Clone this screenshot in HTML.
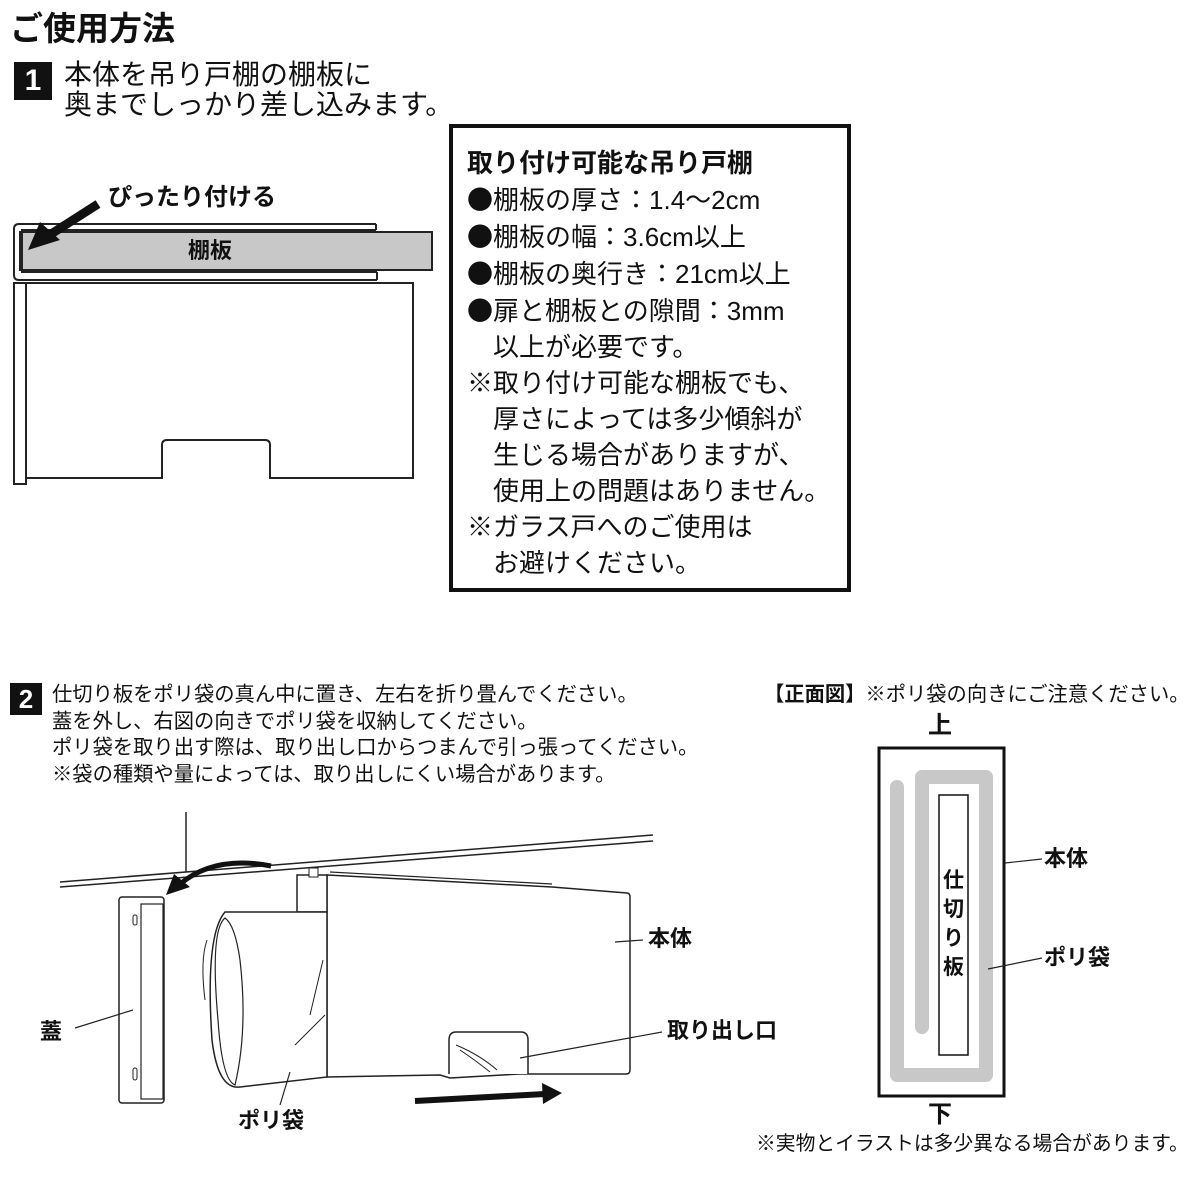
<!DOCTYPE html>
<html><head><meta charset="utf-8"><style>
html,body{margin:0;padding:0;background:#fff;}
body{width:1200px;height:1200px;position:relative;overflow:hidden;font-family:"Liberation Sans","Noto Sans CJK JP",sans-serif;color:#111;}
.t{position:absolute;white-space:nowrap;line-height:1;}
.b{font-weight:bold;}
.badge{position:absolute;background:#111;color:#fff;font-weight:bold;text-align:center;}
.dot{font-family:"Noto Sans CJK JP",sans-serif;}
</style></head><body>
<div class="t b" style="left:10px;top:12px;font-size:33px;">ご使用方法</div>
<div class="badge" style="left:14px;top:62px;width:38px;height:38px;font-size:30px;line-height:38px;">1</div>
<div class="t" style="left:64px;top:61px;font-size:28px;">本体を吊り戸棚の棚板に</div>
<div class="t" style="left:64px;top:91px;font-size:28px;">奥までしっかり差し込みます。</div>

<svg style="position:absolute;left:0;top:0" width="1200" height="1200">
 <rect x="20" y="232" width="412" height="38" fill="#c8c8c8" stroke="#222" stroke-width="2"/>
 <path d="M376,224 L19,224 Q14,224 14,229 L14,275 Q14,280 19,280 L377,280" fill="none" stroke="#222" stroke-width="2"/>
 <path d="M376,230 L22,230 L22,272 L377,272" fill="none" stroke="#222" stroke-width="2"/>
 <line x1="376" y1="224" x2="376" y2="230" stroke="#222" stroke-width="2"/>
 <line x1="377" y1="272" x2="377" y2="280" stroke="#222" stroke-width="2"/>
 <rect x="14" y="283" width="12" height="201" fill="#fff" stroke="#222" stroke-width="2"/>
 <path d="M26,283 L413,283 L413,478 L270,478 L270,445 Q270,440 265,440 L167,440 Q162,440 162,445 L162,478 L26,478" fill="none" stroke="#222" stroke-width="2"/>
 <line x1="98" y1="204" x2="48" y2="236" stroke="#111" stroke-width="9"/>
 <polygon points="28,250 40,222 60,240" fill="#111"/>
 <rect x="451" y="126" width="398" height="464" fill="none" stroke="#111" stroke-width="4"/>

 <line x1="186" y1="812" x2="186" y2="872" stroke="#222" stroke-width="1.5"/>
 <line x1="60" y1="882" x2="653" y2="835" stroke="#222" stroke-width="1.5"/>
 <line x1="60" y1="887" x2="653" y2="841" stroke="#222" stroke-width="1.5"/>
 <path d="M271,866 Q215,855 180,884" fill="none" stroke="#111" stroke-width="5"/>
 <polygon points="166,895 174,874 190,887" fill="#111"/>
 <rect x="119" y="897" width="45" height="206" rx="3" fill="#fff" stroke="#222" stroke-width="1.5"/>
 <rect x="141" y="904" width="22" height="195" fill="none" stroke="#222" stroke-width="1.2"/>
 <rect x="133" y="915" width="4" height="10" rx="2" fill="none" stroke="#222"/>
 <rect x="133" y="1068" width="4" height="12" rx="2" fill="none" stroke="#222"/>
 <line x1="75" y1="1028" x2="133" y2="1010" stroke="#222" stroke-width="1.2"/>
 <path d="M327,875 L552,887 L627,893 Q630,893 630,897 L630,1070 Q630,1074 626,1074 L520,1074 L450,1078 L440,1075 L327,1077 Z" fill="#fff" stroke="#222" stroke-width="1.5"/>
 <path d="M330,872 L552,884" stroke="#222" stroke-width="1.2"/>
 <rect x="297" y="875" width="30" height="37" fill="#fff" stroke="#222" stroke-width="1.5"/>
 <rect x="309" y="868" width="9" height="9" fill="#fff" stroke="#222" stroke-width="1"/>
 <path d="M327,912 L225,912 Q205,935 212,1040 Q218,1090 240,1087 L327,1077 Z" fill="#fff" stroke="#222" stroke-width="1.5"/>
 <path d="M225,918 Q210,930 218,1020 Q222,1080 235,1085 Q248,1030 240,960 Q235,925 225,918 Z" fill="none" stroke="#222" stroke-width="1.2"/>
 <path d="M207,940 Q200,960 205,1000" fill="none" stroke="#222" stroke-width="1"/>
 <path d="M323,960 L310,1015 M325,1015 L295,1045" fill="none" stroke="#222" stroke-width="1"/>
 <line x1="290" y1="1072" x2="280" y2="1105" stroke="#222" stroke-width="1.2"/>
 <path d="M449,1074 L449,1040 Q449,1032 456,1032 L521,1032 Q528,1032 528,1040 L528,1074" fill="#fff" stroke="#222" stroke-width="1.5"/>
 <path d="M456,1045 Q480,1055 497,1070 M460,1050 Q475,1060 490,1072" fill="none" stroke="#222" stroke-width="1"/>
 <line x1="520" y1="1058" x2="662" y2="1032" stroke="#222" stroke-width="1.2"/>
 <line x1="615" y1="942" x2="643" y2="940" stroke="#222" stroke-width="1.2"/>
 <line x1="415" y1="1101" x2="545" y2="1094" stroke="#111" stroke-width="6"/>
 <polygon points="562,1093 542,1083 543,1104" fill="#111"/>

 <rect x="879" y="748" width="125" height="348" fill="none" stroke="#111" stroke-width="3"/>
 <path d="M897,787 L897,1075 L986,1075 L986,777 L922,777 L922,1027" fill="none" stroke="#c8c8c8" stroke-width="14" stroke-linecap="round" stroke-linejoin="round"/>
 <rect x="939" y="795" width="29" height="260" fill="#fff" stroke="#111" stroke-width="1.5"/>
 <line x1="1005" y1="863" x2="1042" y2="859" stroke="#222" stroke-width="1.2"/>
 <line x1="988" y1="969" x2="1042" y2="958" stroke="#222" stroke-width="1.2"/>
</svg>

<div class="t b" style="left:108px;top:186px;font-size:24px;">ぴったり付ける</div>
<div class="t b" style="left:188px;top:240px;font-size:22px;">棚板</div>

<div style="position:absolute;left:467px;top:145px;font-size:26px;line-height:36px;white-space:nowrap;">
<div class="b">取り付け可能な吊り戸棚</div>
<div><span class="dot">●</span>棚板の厚さ：1.4〜2cm</div>
<div><span class="dot">●</span>棚板の幅：3.6cm以上</div>
<div><span class="dot">●</span>棚板の奥行き：21cm以上</div>
<div><span class="dot">●</span>扉と棚板との隙間：3mm</div>
<div>&#12288;以上が必要です。</div>
<div>※取り付け可能な棚板でも、</div>
<div>&#12288;厚さによっては多少傾斜が</div>
<div>&#12288;生じる場合がありますが、</div>
<div>&#12288;使用上の問題はありません。</div>
<div>※ガラス戸へのご使用は</div>
<div>&#12288;お避けください。</div>
</div>

<div class="badge" style="left:10px;top:683px;width:32px;height:32px;font-size:26px;line-height:32px;">2</div>
<div style="position:absolute;left:52px;top:682px;font-size:20.3px;line-height:26.5px;white-space:nowrap;">
<div>仕切り板をポリ袋の真ん中に置き、左右を折り畳んでください。</div>
<div>蓋を外し、右図の向きでポリ袋を収納してください。</div>
<div>ポリ袋を取り出す際は、取り出し口からつまんで引っ張ってください。</div>
<div>※袋の種類や量によっては、取り出しにくい場合があります。</div>
</div>

<div class="t b" style="left:648px;top:928px;font-size:22px;">本体</div>
<div class="t b" style="left:40px;top:1021px;font-size:22px;">蓋</div>
<div class="t b" style="left:238px;top:1110px;font-size:22px;">ポリ袋</div>
<div class="t b" style="left:667px;top:1020px;font-size:22px;">取り出し口</div>

<div class="t" style="left:764px;top:685px;font-size:20.3px;"><b>【正面図】</b>※ポリ袋の向きにご注意ください。</div>
<div class="t b" style="left:928px;top:714px;font-size:24px;">上</div>
<div class="t b" style="left:928px;top:1103px;font-size:24px;">下</div>
<div class="t b" style="left:943px;top:866px;font-size:21px;line-height:29px;white-space:normal;width:22px;">仕切り板</div>
<div class="t b" style="left:1044px;top:848px;font-size:22px;">本体</div>
<div class="t b" style="left:1044px;top:947px;font-size:22px;">ポリ袋</div>
<div class="t" style="left:756px;top:1135px;font-size:19.8px;">※実物とイラストは多少異なる場合があります。</div>
</body></html>
